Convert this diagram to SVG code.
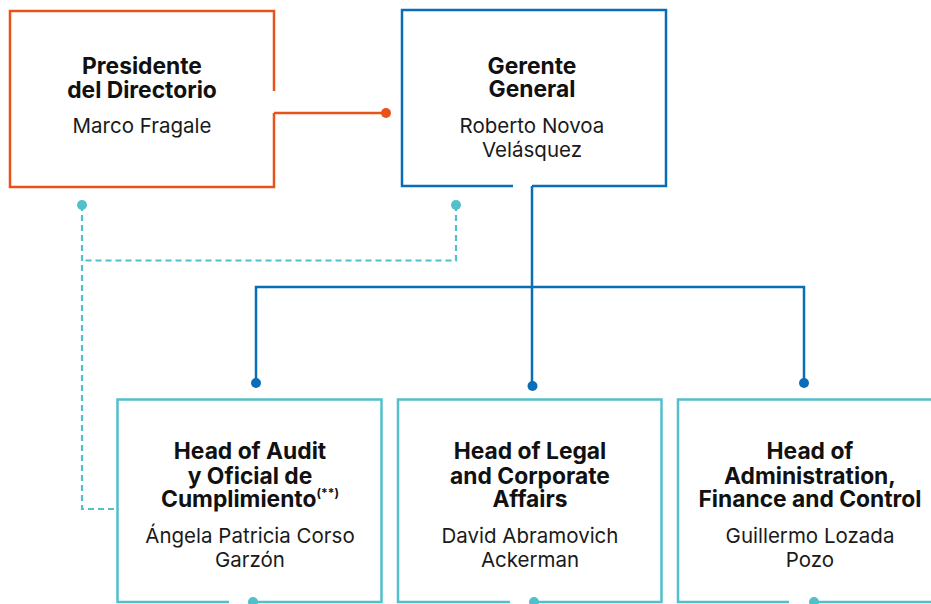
<svg xmlns="http://www.w3.org/2000/svg" width="931" height="604" viewBox="0 0 931 604">
  <style>
    .box { fill: none; stroke-width: 2.5; }
    .orange { stroke: #E8531A; }
    .blue { stroke: #0A6DB8; }
    .teal { stroke: #52C0CB; }
    .conn { fill: none; stroke-width: 2.5; }
    .dash { fill: none; stroke: #52C0CB; stroke-width: 2.2; stroke-dasharray: 6 4; }
    .title { font-family: Inter, "Liberation Sans", sans-serif; font-weight: 700; font-size: 22.8px; fill: #111111; text-anchor: middle; }
    .name { font-family: Inter, "Liberation Sans", sans-serif; font-weight: 400; font-size: 20.5px; fill: #1a1a1a; text-anchor: middle; }
    .sup { font-size: 12px; }
  </style>
  <rect width="931" height="604" fill="#ffffff"/>

  <g id="connectors">
    <path class="conn orange" d="M274,113 H386"/>
    <circle cx="386" cy="113" r="5" fill="#E8531A"/>
    <path class="conn blue" d="M532,186 V287 M256,383 V287 H804 V383 M532,287 V386"/>
    <circle cx="256" cy="383" r="5" fill="#0A6DB8"/>
    <circle cx="532.5" cy="386" r="5" fill="#0A6DB8"/>
    <circle cx="804" cy="383" r="5" fill="#0A6DB8"/>
    <path class="dash" d="M82,205 V509 H117"/>
    <path class="dash" d="M456,205 V260.5 H82"/>
    <circle cx="82" cy="205" r="5" fill="#52C0CB"/>
    <circle cx="456" cy="205" r="5" fill="#52C0CB"/>
  </g>

  <g id="presidente">
    <path class="box orange" d="M274,91 V11 H10 V187 H274 V113"/>
    <text class="title" x="142" y="74">Presidente</text>
    <text class="title" x="142" y="97.5">del Directorio</text>
    <text class="name" x="142" y="133">Marco Fragale</text>
  </g>

  <g id="gerente">
    <path class="box blue" d="M513,186 H402 V10 H666 V186 H532"/>
    <text class="title" x="532" y="74">Gerente</text>
    <text class="title" x="532" y="97">General</text>
    <text class="name" x="532" y="133">Roberto Novoa</text>
    <text class="name" x="532" y="157">Velásquez</text>
  </g>

  <g id="audit">
    <path class="box teal" d="M229,602 H117.5 V399.5 H381.5 V602 H250"/>
    <circle cx="253" cy="602" r="5" fill="#52C0CB"/>
    <text class="title" x="250" y="459">Head of Audit</text>
    <text class="title" x="250" y="483.5">y Oficial de</text>
    <text class="title" x="250" y="507">Cumplimiento<tspan class="sup" dy="-10">(**)</tspan></text>
    <text class="name" x="250" y="543">Ángela Patricia Corso</text>
    <text class="name" x="250" y="567">Garzón</text>
  </g>

  <g id="legal">
    <path class="box teal" d="M510,602 H398 V399.5 H661.5 V602 H531"/>
    <circle cx="534" cy="602" r="5" fill="#52C0CB"/>
    <text class="title" x="530" y="459">Head of Legal</text>
    <text class="title" x="530" y="483.5">and Corporate</text>
    <text class="title" x="530" y="507">Affairs</text>
    <text class="name" x="530" y="543">David Abramovich</text>
    <text class="name" x="530" y="567">Ackerman</text>
  </g>

  <g id="administration">
    <path class="box teal" d="M789,602 H678 V399.5 H942 V602 H810"/>
    <circle cx="814" cy="602" r="5" fill="#52C0CB"/>
    <text class="title" x="810" y="459">Head of</text>
    <text class="title" x="810" y="483.5">Administration,</text>
    <text class="title" x="810" y="507">Finance and Control</text>
    <text class="name" x="810" y="543">Guillermo Lozada</text>
    <text class="name" x="810" y="567">Pozo</text>
  </g>
</svg>
